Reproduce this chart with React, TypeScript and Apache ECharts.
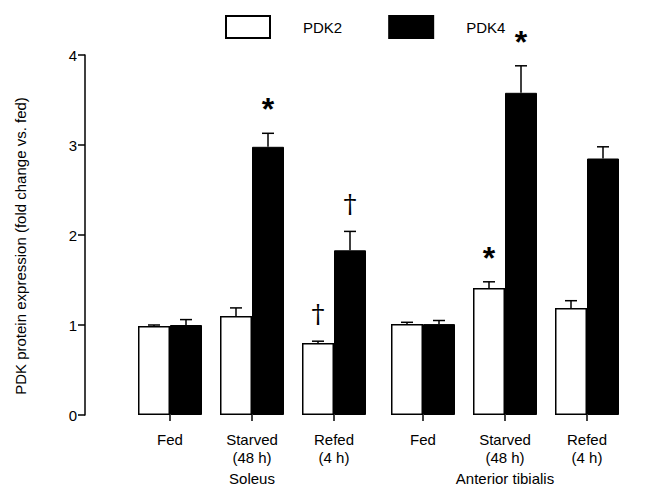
import React, { useEffect, useRef } from 'react';
import * as echarts from 'echarts';

const categories = ['Fed', 'Starved\n(48 h)', 'Refed\n(4 h)'];
const muscles = ['Soleus', 'Anterior tibialis'];
const seriesNames = ['PDK2', 'PDK4'];

const soleusPDK2 = [0.99, 1.1, 0.8];
const soleusPDK2Err = [0.01, 0.09, 0.02];
const soleusPDK4 = [1.0, 2.98, 1.83];
const soleusPDK4Err = [0.06, 0.15, 0.21];

const tibialisPDK2 = [1.01, 1.41, 1.19];
const tibialisPDK2Err = [0.02, 0.07, 0.08];
const tibialisPDK4 = [1.01, 3.58, 2.85];
const tibialisPDK4Err = [0.04, 0.3, 0.13];

const soleusPDK2Marks = ['', '', '†'];
const soleusPDK4Marks = ['', '*', '†'];
const tibialisPDK2Marks = ['', '*', ''];
const tibialisPDK4Marks = ['', '*', ''];

const yMin = 0;
const yMax = 4;
const yInterval = 1;

const FONT = '"Liberation Sans", Arial, Helvetica, sans-serif';
const BAR_W = 32;

function errSeries(gridIdx: number, values: number[], errs: number[], marks: string[], side: number) {
  return {
    type: 'custom',
    xAxisIndex: gridIdx,
    yAxisIndex: gridIdx,
    silent: true,
    z: 5,
    data: values.map((v, i) => [i, v, errs[i]]),
    renderItem: (params: any, api: any) => {
      const i = api.value(0);
      const v = api.value(1);
      const e = api.value(2);
      const base = api.coord([i, v]);
      const top = api.coord([i, v + e]);
      const x = base[0] + (side * BAR_W) / 2;
      const children: any[] = [
        {
          type: 'line',
          shape: { x1: x, y1: base[1], x2: x, y2: top[1] },
          style: { stroke: '#000', lineWidth: 1.5 },
        },
        {
          type: 'line',
          shape: { x1: x - 6, y1: top[1], x2: x + 6, y2: top[1] },
          style: { stroke: '#000', lineWidth: 1.5 },
        },
      ];
      const m = marks[params.dataIndex];
      if (m) {
        const isStar = m === '*';
        children.push({
          type: 'text',
          x: x,
          y: top[1] - (isStar ? 8 : 14),
          style: {
            text: m,
            fill: '#000',
            font: isStar ? `bold 32px ${FONT}` : `26px "DejaVu Serif", serif`,
            textAlign: 'center',
            textVerticalAlign: 'bottom',
          },
        });
      }
      return { type: 'group', children };
    },
  };
}

export default function App() {
  const ref = useRef<HTMLDivElement>(null);
  useEffect(() => {
    if (!ref.current) return;
    const chart = echarts.init(ref.current, undefined, { renderer: 'svg' });
    const xAxisCommon = {
      type: 'category',
      data: categories,
      axisLine: { show: false },
      axisTick: { show: true, alignWithLabel: true, length: 6, lineStyle: { color: '#000', width: 1.5 } },
      axisLabel: { color: '#000', fontSize: 15, fontFamily: FONT, lineHeight: 18, margin: 15 },
      nameLocation: 'middle',
      nameGap: 50,
      nameTextStyle: { color: '#000', fontSize: 15, fontFamily: FONT },
      splitLine: { show: false },
    };
    const option: any = {
      animation: false,
      backgroundColor: '#fff',
      textStyle: { fontFamily: FONT },
      legend: {
        data: seriesNames,
        left: 220,
        top: 10,
        itemWidth: 44,
        itemHeight: 22,
        itemGap: 46,
        icon: 'rect',
        selectedMode: false,
        textStyle: { color: '#000', fontSize: 15, fontFamily: FONT, padding: [0, 0, 0, 28] },
      },
      grid: [
        { left: 129, right: 651 - 375, top: 55, bottom: 72, outerBoundsMode: 'none', containLabel: false },
        { left: 382, right: 651 - 628, top: 55, bottom: 72, outerBoundsMode: 'none', containLabel: false },
      ],
      xAxis: [
        { ...xAxisCommon, gridIndex: 0, name: muscles[0] },
        { ...xAxisCommon, gridIndex: 1, name: muscles[1] },
      ],
      yAxis: [
        {
          type: 'value',
          gridIndex: 0,
          min: yMin,
          max: yMax,
          interval: yInterval,
          offset: 44,
          axisLine: { show: true, lineStyle: { color: '#000', width: 1.5 } },
          axisTick: { show: true, length: 7, lineStyle: { color: '#000', width: 1.5 } },
          axisLabel: { color: '#000', fontSize: 15, fontFamily: FONT, margin: 8 },
          splitLine: { show: false },
          name: 'PDK protein expression (fold change vs. fed)',
          nameLocation: 'middle',
          nameGap: 57,
          nameTextStyle: { color: '#000', fontSize: 15, fontFamily: FONT, padding: [0, 22, 0, 0] },
        },
        { type: 'value', gridIndex: 1, min: yMin, max: yMax, interval: yInterval, show: false },
      ],
      series: [
        {
          type: 'bar', name: seriesNames[0], xAxisIndex: 0, yAxisIndex: 0, data: soleusPDK2,
          barWidth: BAR_W, barGap: '0%',
          itemStyle: { color: '#fff', borderColor: '#000', borderWidth: 1.5 },
        },
        {
          type: 'bar', name: seriesNames[1], xAxisIndex: 0, yAxisIndex: 0, data: soleusPDK4,
          barWidth: BAR_W, barGap: '0%',
          itemStyle: { color: '#000', borderColor: '#000', borderWidth: 1 },
        },
        {
          type: 'bar', name: seriesNames[0], xAxisIndex: 1, yAxisIndex: 1, data: tibialisPDK2,
          barWidth: BAR_W, barGap: '0%',
          itemStyle: { color: '#fff', borderColor: '#000', borderWidth: 1.5 },
        },
        {
          type: 'bar', name: seriesNames[1], xAxisIndex: 1, yAxisIndex: 1, data: tibialisPDK4,
          barWidth: BAR_W, barGap: '0%',
          itemStyle: { color: '#000', borderColor: '#000', borderWidth: 1 },
        },
        errSeries(0, soleusPDK2, soleusPDK2Err, soleusPDK2Marks, -1),
        errSeries(0, soleusPDK4, soleusPDK4Err, soleusPDK4Marks, 1),
        errSeries(1, tibialisPDK2, tibialisPDK2Err, tibialisPDK2Marks, -1),
        errSeries(1, tibialisPDK4, tibialisPDK4Err, tibialisPDK4Marks, 1),
      ],
    };
    chart.setOption(option);
    return () => chart.dispose();
  }, []);
  return <div ref={ref} style={{ position: 'fixed', left: 0, top: 0, width: 651, height: 487 }} />;
}
